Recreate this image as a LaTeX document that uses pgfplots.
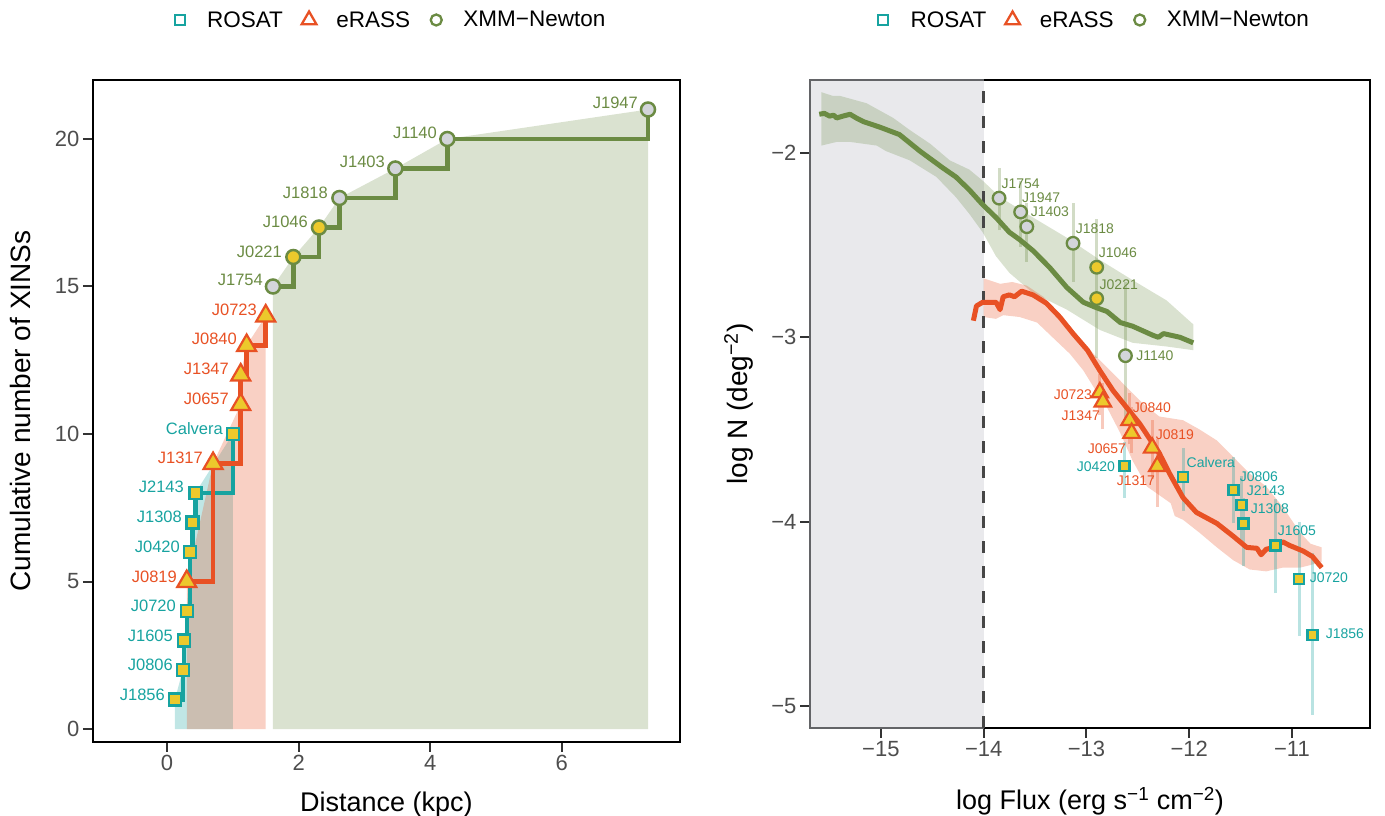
\documentclass[border=0pt]{standalone}
\usepackage{fontspec}
\setmainfont{Liberation Sans}
\usepackage{pgfplots}
\pgfplotsset{compat=1.18}
\definecolor{rosat}{RGB}{23,163,160}
\definecolor{erass}{RGB}{232,81,36}
\definecolor{xmm}{RGB}{107,139,67}
\definecolor{fyel}{RGB}{236,201,44}
\definecolor{fgray}{RGB}{211,213,218}
\definecolor{tickc}{RGB}{51,51,51}
\definecolor{tlab}{RGB}{77,77,77}
\definecolor{shade}{RGB}{208,210,216}
\definecolor{dashc}{RGB}{70,70,70}
\newcommand{\lfont}{\fontsize{16.5}{16.5}\selectfont}
\newcommand{\rfont}{\fontsize{14}{14}\selectfont}
\tikzset{
  lab/.style={anchor=east, inner sep=0pt, font=\lfont},
  rlab/.style={anchor=center, inner sep=0pt, font=\rfont},
}
\pgfplotsset{
  mystyle/.style={
    scale only axis,
    axis line style={black, line width=1.8pt},
    tick align=outside,
    major tick length=10pt,
    tick style={tickc, line width=2pt},
    tick pos=left,
    /pgf/number format/assume math mode=true,
    tick label style={font=\fontsize{22}{22}\selectfont, text=tlab},
    every axis x label/.style={at={(axis description cs:0.5,0)}, anchor=base, font=\fontsize{27}{27}\selectfont},
    every axis y label/.style={rotate=90, anchor=base, font=\fontsize{28}{28}\selectfont},
    legend columns=3,
    legend style={at={(0.5,1)}, anchor=center, yshift=60pt, draw=none, fill=none,
      font=\fontsize{22.5}{22.5}\selectfont, nodes={inner sep=0pt},
      /tikz/every even column/.append style={column sep=14pt},
      /tikz/every odd column/.append style={column sep=0pt}},
  },
  limg/.style={legend image code/.code={\path (0pt,0pt) (39pt,0pt); \draw[##1] plot coordinates {(12pt,0pt)};}},
}
\begin{document}
\begin{tikzpicture}
\useasboundingbox (0pt,0pt) rectangle (1385pt,816pt);
% ---------------- LEFT PANEL ----------------
\begin{axis}[mystyle, at={(93pt,74pt)}, anchor=south west,
  width=587pt, height=662pt,
  xmin=-1.125, xmax=7.796, ymin=-0.44, ymax=22.0,
  xtick={0,2,4,6}, ytick={0,5,10,15,20},
  xlabel={Distance (kpc)}, ylabel={Cumulative number of XINSs},
  x label style={at={(axis description cs:0.5,-0.105)}},
  y label style={at={(axis description cs:-0.107,0.5)}},
]
\addlegendimage{mark=square, mark size=5pt, mark options={solid, draw=rosat, line width=2.3pt}, limg}
\addlegendentry{ROSAT}
\addlegendimage{mark=triangle, mark size=8.5pt, mark options={solid, draw=erass, line width=2.3pt}, limg}
\addlegendentry{eRASS}
\addlegendimage{mark=o, mark size=5.5pt, mark options={solid, draw=xmm, line width=2.3pt}, limg}
\addlegendentry{XMM\char"2212 Newton}
% areas
\addplot[draw=none, fill=rosat, fill opacity=0.27, forget plot] coordinates {(0.12,0)(0.12,1)(0.24,2)(0.26,3)(0.30,4)(0.35,6)(0.39,7)(0.43,8)(1.00,10)(1.00,0)} -- cycle;
\addplot[draw=none, fill=erass, fill opacity=0.27, forget plot] coordinates {(0.30,0)(0.30,5)(0.70,9)(1.12,11)(1.12,12)(1.21,13)(1.50,14)(1.50,0)} -- cycle;
\addplot[draw=none, fill=xmm, fill opacity=0.25, forget plot] coordinates {(1.61,0)(1.61,15)(1.92,16)(2.31,17)(2.62,18)(3.47,19)(4.26,20)(7.31,21)(7.31,0)} -- cycle;
% step lines
\addplot[rosat, line width=4.5pt, const plot mark left, mark=none, forget plot] coordinates {(0.12,1)(0.24,2)(0.26,3)(0.30,4)(0.35,6)(0.39,7)(0.43,8)(1.00,10)};
\addplot[erass, line width=4.5pt, const plot mark left, mark=none, forget plot] coordinates {(0.30,5)(0.70,9)(1.12,11)(1.12,12)(1.21,13)(1.50,14)};
\addplot[xmm, line width=4.5pt, const plot mark left, mark=none, forget plot] coordinates {(1.61,15)(1.92,16)(2.31,17)(2.62,18)(3.47,19)(4.26,20)(7.31,21)};
% points
\addplot[only marks, mark=square*, mark size=6pt, mark options={draw=rosat, fill=fyel, line width=2.5pt}, forget plot] coordinates {(0.12,1)(0.24,2)(0.26,3)(0.30,4)(0.35,6)(0.39,7)(0.43,8)(1.00,10)};
\addplot[only marks, mark=triangle*, mark size=11pt, mark options={draw=erass, fill=fyel, line width=2.2pt}, forget plot] coordinates {(0.30,5)(0.70,9)(1.12,11)(1.12,12)(1.21,13)(1.50,14)};
\addplot[only marks, mark=*, mark size=7pt, mark options={draw=xmm, fill=fgray, line width=2.5pt}, forget plot] coordinates {(1.61,15)(2.62,18)(3.47,19)(4.26,20)(7.31,21)};
\addplot[only marks, mark=*, mark size=7pt, mark options={draw=xmm, fill=fyel, line width=2.5pt}, forget plot] coordinates {(1.92,16)(2.31,17)};
% labels
\node[lab, text=rosat] at (axis cs:-0.030,1.153) {J1856};
\node[lab, text=rosat] at (axis cs:0.091,2.169) {J0806};
\node[lab, text=rosat] at (axis cs:0.091,3.153) {J1605};
\node[lab, text=rosat] at (axis cs:0.137,4.169) {J0720};
\node[lab, text=erass] at (axis cs:0.152,5.153) {J0819};
\node[lab, text=rosat] at (axis cs:0.198,6.169) {J0420};
\node[lab, text=rosat] at (axis cs:0.228,7.186) {J1308};
\node[lab, text=rosat] at (axis cs:0.258,8.203) {J2143};
\node[lab, text=erass] at (axis cs:0.547,9.186) {J1317};
\node[lab, text=rosat] at (axis cs:0.851,10.169) {Calvera};
\node[lab, text=erass] at (axis cs:0.942,11.186) {J0657};
\node[lab, text=erass] at (axis cs:0.942,12.203) {J1347};
\node[lab, text=erass] at (axis cs:1.064,13.220) {J0840};
\node[lab, text=erass] at (axis cs:1.368,14.203) {J0723};
\node[lab, text=xmm] at (axis cs:1.459,15.220) {J1754};
\node[lab, text=xmm] at (axis cs:1.748,16.169) {J0221};
\node[lab, text=xmm] at (axis cs:2.143,17.186) {J1046};
\node[lab, text=xmm] at (axis cs:2.447,18.169) {J1818};
\node[lab, text=xmm] at (axis cs:3.313,19.220) {J1403};
\node[lab, text=xmm] at (axis cs:4.103,20.203) {J1140};
\node[lab, text=xmm] at (axis cs:7.158,21.220) {J1947};
\end{axis}
% ---------------- RIGHT PANEL ----------------
\begin{axis}[mystyle, at={(810pt,88pt)}, anchor=south west,
  width=560pt, height=648pt, clip=false,
  xmin=-15.69, xmax=-10.24, ymin=-5.12, ymax=-1.604,
  xtick={-15,-14,-13,-12,-11}, xticklabels={−15,−14,−13,−12,−11},
  ytick={-5,-4,-3,-2}, yticklabels={−5,−4,−3,−2},
  xlabel={log Flux (erg s\textsuperscript{−1} cm\textsuperscript{−2})},
  ylabel={log N (deg\textsuperscript{−2})},
  x label style={at={(axis description cs:0.5,-0.1265)}},
  y label style={at={(axis description cs:-0.1125,0.5)}},
]
\addlegendimage{mark=square, mark size=5pt, mark options={solid, draw=rosat, line width=2.3pt}, limg}
\addlegendentry{ROSAT}
\addlegendimage{mark=triangle, mark size=8.5pt, mark options={solid, draw=erass, line width=2.3pt}, limg}
\addlegendentry{eRASS}
\addlegendimage{mark=o, mark size=5.5pt, mark options={solid, draw=xmm, line width=2.3pt}, limg}
\addlegendentry{XMM\char"2212 Newton}
% shaded region below limit
\addplot[draw=none, fill=shade, fill opacity=0.48, forget plot] coordinates {(-15.70,-5.126)(-14,-5.126)(-14,-1.598)(-15.70,-1.598)} -- cycle;
% bands
\addplot[draw=none, fill=xmm, fill opacity=0.25, forget plot] coordinates {(-15.58,-1.67)(-15.47,-1.69)(-15.40,-1.69)(-15.27,-1.71)(-15.14,-1.73)(-15.01,-1.77)(-14.88,-1.81)(-14.72,-1.875)(-14.52,-1.95)(-14.33,-2.04)(-14.14,-2.09)(-14.01,-2.15)(-13.84,-2.24)(-13.52,-2.35)(-13.19,-2.46)(-12.87,-2.58)(-12.55,-2.69)(-12.22,-2.80)(-11.96,-2.93)(-11.96,-3.07)(-12.22,-3.05)(-12.55,-3.03)(-12.87,-2.96)(-13.19,-2.85)(-13.52,-2.76)(-13.75,-2.65)(-13.88,-2.56)(-14.01,-2.43)(-14.14,-2.33)(-14.27,-2.24)(-14.46,-2.13)(-14.72,-2.04)(-14.95,-1.99)(-15.04,-1.96)(-15.30,-1.94)(-15.43,-1.94)(-15.58,-1.96)} -- cycle;
\addplot[draw=none, fill=erass, fill opacity=0.27, forget plot] coordinates {(-14.00,-2.68)(-13.84,-2.71)(-13.72,-2.70)(-13.58,-2.72)(-13.42,-2.78)(-13.26,-2.87)(-13.10,-2.98)(-12.93,-3.09)(-12.77,-3.18)(-12.61,-3.27)(-12.45,-3.36)(-12.29,-3.43)(-12.06,-3.45)(-11.90,-3.50)(-11.73,-3.56)(-11.57,-3.65)(-11.41,-3.74)(-11.25,-3.81)(-11.09,-3.92)(-10.92,-4.06)(-10.82,-4.12)(-10.71,-4.14)(-10.71,-4.22)(-10.92,-4.25)(-11.09,-4.25)(-11.25,-4.27)(-11.41,-4.26)(-11.57,-4.21)(-11.73,-4.14)(-11.90,-4.06)(-12.06,-3.99)(-12.14,-3.97)(-12.18,-3.90)(-12.41,-3.81)(-12.55,-3.67)(-12.67,-3.52)(-12.80,-3.38)(-12.93,-3.27)(-13.03,-3.18)(-13.16,-3.09)(-13.33,-3.00)(-13.48,-2.92)(-13.65,-2.89)(-13.81,-2.88)(-13.88,-2.90)(-14.00,-2.89)} -- cycle;
% error bars
\addplot[xmm, opacity=0.3, line width=3pt, unbounded coords=jump, forget plot] coordinates {
(-13.85,-2.42)(-13.85,-2.08)(-13.85,nan)
(-13.64,-2.51)(-13.64,-2.15)(-13.64,nan)
(-13.58,-2.59)(-13.58,-2.27)(-13.58,nan)
(-13.13,-2.70)(-13.13,-2.27)(-13.13,nan)
(-12.90,-2.85)(-12.90,-2.36)(-12.90,nan)
(-12.90,-3.11)(-12.90,-2.55)(-12.90,nan)
(-12.62,-3.45)(-12.62,-2.70)};
\addplot[erass, opacity=0.3, line width=3pt, unbounded coords=jump, forget plot] coordinates {
(-12.87,-3.42)(-12.87,-3.20)(-12.87,nan)
(-12.84,-3.50)(-12.84,-3.25)(-12.84,nan)
(-12.58,-3.58)(-12.58,-3.30)(-12.58,nan)
(-12.56,-3.63)(-12.56,-3.38)(-12.56,nan)
(-12.36,-3.77)(-12.36,-3.45)(-12.36,nan)
(-12.31,-3.92)(-12.31,-3.55)};
\addplot[rosat, opacity=0.3, line width=3pt, unbounded coords=jump, forget plot] coordinates {
(-12.63,-3.87)(-12.63,-3.57)(-12.63,nan)
(-12.06,-3.94)(-12.06,-3.60)(-12.06,nan)
(-11.57,-4.01)(-11.57,-3.65)(-11.57,nan)
(-11.49,-4.10)(-11.49,-3.75)(-11.49,nan)
(-11.47,-4.24)(-11.47,-3.87)(-11.47,nan)
(-11.16,-4.39)(-11.16,-3.88)(-11.16,nan)
(-10.93,-4.62)(-10.93,-4.00)(-10.93,nan)
(-10.80,-5.05)(-10.80,-4.17)};
% dashed limit
\addplot[dashc, line width=2.8pt, dash pattern=on 12pt off 13pt, forget plot] coordinates {(-14,-5.12)(-14,-1.604)};
% curves
\addplot[xmm, line width=5pt, line join=round, forget plot] coordinates {(-15.60,-1.79)(-15.55,-1.785)(-15.50,-1.80)(-15.46,-1.795)(-15.43,-1.81)(-15.37,-1.80)(-15.30,-1.79)(-15.24,-1.81)(-15.17,-1.83)(-15.01,-1.86)(-14.82,-1.90)(-14.62,-1.99)(-14.40,-2.08)(-14.27,-2.13)(-14.14,-2.20)(-14.01,-2.28)(-13.88,-2.35)(-13.75,-2.43)(-13.65,-2.47)(-13.52,-2.53)(-13.36,-2.62)(-13.19,-2.73)(-13.03,-2.81)(-12.90,-2.84)(-12.80,-2.86)(-12.67,-2.92)(-12.55,-2.94)(-12.35,-2.99)(-12.30,-3.00)(-12.25,-2.98)(-12.09,-3.00)(-11.96,-3.03)};
\addplot[erass, line width=5pt, line join=round, forget plot] coordinates {(-14.10,-2.91)(-14.07,-2.83)(-14.01,-2.81)(-13.88,-2.81)(-13.84,-2.85)(-13.81,-2.78)(-13.75,-2.77)(-13.70,-2.78)(-13.63,-2.75)(-13.52,-2.77)(-13.39,-2.815)(-13.26,-2.89)(-13.13,-2.98)(-12.99,-3.07)(-12.87,-3.18)(-12.74,-3.29)(-12.61,-3.38)(-12.48,-3.47)(-12.35,-3.58)(-12.29,-3.63)(-12.19,-3.74)(-12.06,-3.87)(-11.93,-3.95)(-11.73,-4.01)(-11.57,-4.08)(-11.44,-4.14)(-11.34,-4.145)(-11.30,-4.18)(-11.25,-4.15)(-11.17,-4.14)(-11.09,-4.11)(-11.02,-4.13)(-10.89,-4.16)(-10.80,-4.19)(-10.71,-4.25)};
% points
\addplot[only marks, mark=*, mark size=6.3pt, mark options={draw=xmm, fill=fgray, line width=2.3pt}, forget plot] coordinates {(-13.85,-2.245)(-13.64,-2.32)(-13.58,-2.40)(-13.13,-2.49)(-12.62,-3.10)};
\addplot[only marks, mark=*, mark size=6.3pt, mark options={draw=xmm, fill=fyel, line width=2.3pt}, forget plot] coordinates {(-12.90,-2.62)(-12.90,-2.79)};
\addplot[only marks, mark=triangle*, mark size=9.5pt, mark options={draw=erass, fill=fyel, line width=2.2pt}, forget plot] coordinates {(-12.87,-3.30)(-12.84,-3.35)(-12.58,-3.45)(-12.56,-3.52)(-12.36,-3.60)(-12.31,-3.70)};
\addplot[only marks, mark=square*, mark size=5pt, mark options={draw=rosat, fill=fyel, line width=2.3pt}, forget plot] coordinates {(-12.63,-3.70)(-12.06,-3.76)(-11.57,-3.83)(-11.49,-3.91)(-11.47,-4.01)(-11.16,-4.13)(-10.93,-4.31)(-10.80,-4.615)};
% labels
\node[rlab, text=xmm] at (axis cs:-13.64,-2.168) {J1754};
\node[rlab, text=xmm] at (axis cs:-13.44,-2.244) {J1947};
\node[rlab, text=xmm] at (axis cs:-13.356,-2.320) {J1403};
\node[rlab, text=xmm] at (axis cs:-12.918,-2.412) {J1818};
\node[rlab, text=xmm] at (axis cs:-12.694,-2.543) {J1046};
\node[rlab, text=xmm] at (axis cs:-12.685,-2.716) {J0221};
\node[rlab, text=xmm] at (axis cs:-12.334,-3.101) {J1140};
\node[rlab, text=erass] at (axis cs:-13.132,-3.313) {J0723};
\node[rlab, text=erass] at (axis cs:-13.055,-3.427) {J1347};
\node[rlab, text=erass] at (axis cs:-12.363,-3.384) {J0840};
\node[rlab, text=erass] at (axis cs:-12.80,-3.606) {J0657};
\node[rlab, text=erass] at (axis cs:-12.139,-3.530) {J0819};
\node[rlab, text=erass] at (axis cs:-12.519,-3.780) {J1317};
\node[rlab, text=rosat] at (axis cs:-12.908,-3.704) {J0420};
\node[rlab, text=rosat] at (axis cs:-11.789,-3.682) {Calvera};
\node[rlab, text=rosat] at (axis cs:-11.321,-3.758) {J0806};
\node[rlab, text=rosat] at (axis cs:-11.253,-3.834) {J2143};
\node[rlab, text=rosat] at (axis cs:-11.214,-3.932) {J1308};
\node[rlab, text=rosat] at (axis cs:-10.951,-4.051) {J1605};
\node[rlab, text=rosat] at (axis cs:-10.640,-4.306) {J0720};
\node[rlab, text=rosat] at (axis cs:-10.484,-4.610) {J1856};
\end{axis}
\end{tikzpicture}
\end{document}
